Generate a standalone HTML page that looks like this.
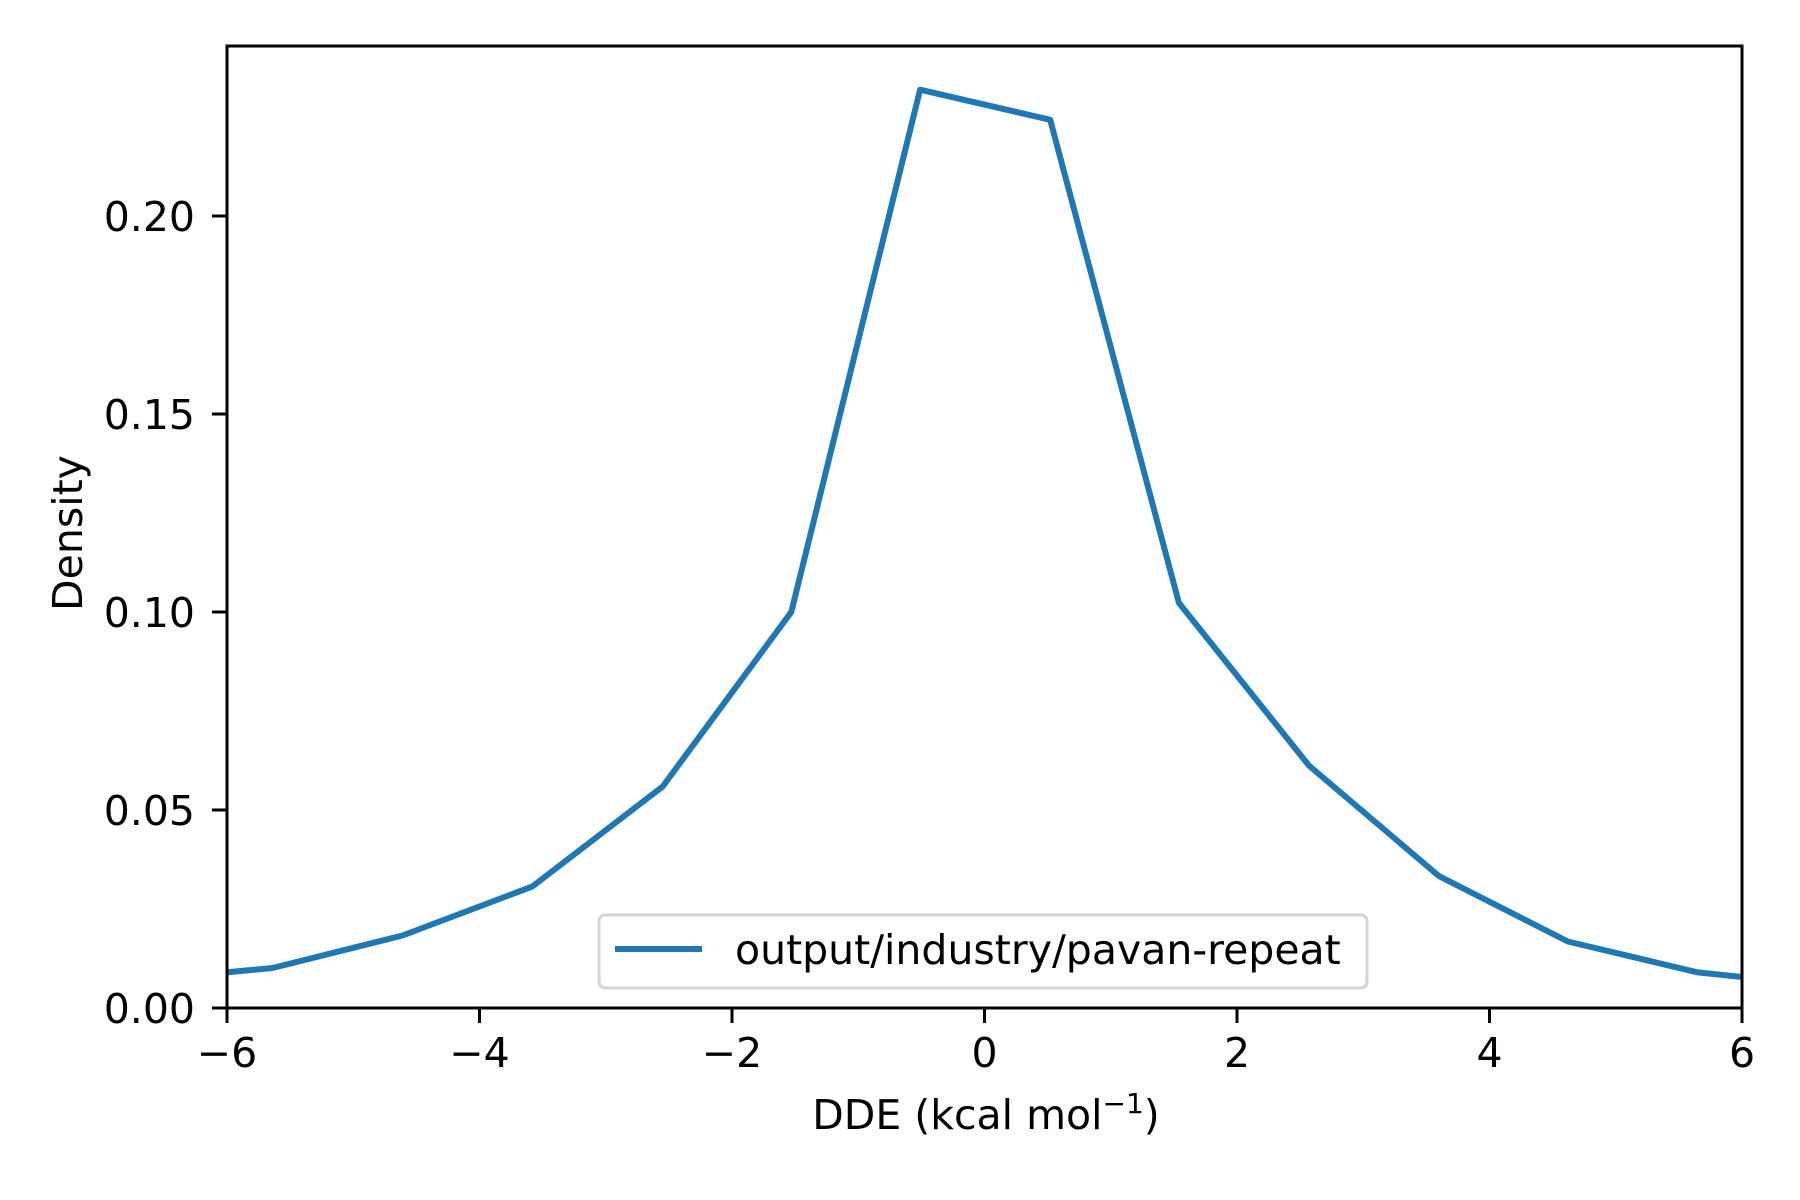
<!DOCTYPE html>
<html><head><meta charset="utf-8">
<style>
html,body{margin:0;padding:0;background:#fff;}
svg{display:block;font-family:"DejaVu Sans","Liberation Sans",sans-serif;}
</style></head>
<body>
<svg id="chart" width="1800" height="1200" viewBox="0 0 1800 1200" xmlns="http://www.w3.org/2000/svg">
  <rect x="0" y="0" width="1800" height="1200" fill="#fff"/>
  <defs><clipPath id="clip"><rect x="227" y="46" width="1515" height="962"/></clipPath></defs>
  <g id="xticks"></g>
  <g id="yticks"></g>
  <path id="series" clip-path="url(#clip)" fill="none" stroke="#1f77b4" stroke-width="6" stroke-linejoin="round" stroke-linecap="square"/>
  <rect x="227" y="46" width="1515" height="962" fill="none" stroke="#000" stroke-width="3"/>
  <text x="986" y="1129" font-size="41" text-anchor="middle">DDE (kcal mol<tspan font-size="28" dy="-16">−1</tspan><tspan dy="16">)</tspan></text>
  <text transform="translate(82,533) rotate(-90)" font-size="41" text-anchor="middle">Density</text>
  <g transform="translate(-5,-3)">
    <rect x="604" y="918" width="768" height="73" rx="6" fill="#fff" fill-opacity="0.8" stroke="#d4d4d4" stroke-width="3"/>
    <line x1="620" y1="952" x2="707" y2="952" stroke="#1f77b4" stroke-width="6"/>
    <text x="740" y="967" font-size="41">output/industry/pavan-repeat</text>
  </g>
</svg>
<script>
const xValues = [-6.67, -5.64, -4.61, -3.58, -2.55, -1.53, -0.51, 0.52, 1.54, 2.57, 3.60, 4.62, 5.65, 6.67];
const densityValues = [0.0070, 0.0101, 0.0183, 0.0307, 0.0559, 0.1000, 0.2319, 0.2243, 0.1023, 0.0612, 0.0333, 0.0168, 0.0090, 0.0056];
const xTickValues = [-6, -4, -2, 0, 2, 4, 6];
const yTickValues = [0, 0.05, 0.10, 0.15, 0.20];
const yTickLabels = ["0.00", "0.05", "0.10", "0.15", "0.20"];

const X0 = 227, X1 = 1742, Y0 = 1008, YTOP = 46;
function sx(v){ return X0 + (v - (-6)) / 12 * (X1 - X0); }
function sy(v){ return Y0 - v / 0.05 * 198; }
const NS = "http://www.w3.org/2000/svg";

const xg = document.getElementById('xticks');
xTickValues.forEach(function(t){
  const l = document.createElementNS(NS, 'line');
  
  
  l.setAttribute('x1', sx(t)); l.setAttribute('x2', sx(t));
  l.setAttribute('y1', Y0); l.setAttribute('y2', Y0 + 15);
  l.setAttribute('stroke', '#000'); l.setAttribute('stroke-width', '3');
  xg.appendChild(l);
  const tx = document.createElementNS(NS, 'text');
  
  
  tx.setAttribute('x', sx(t)); tx.setAttribute('y', 1067);
  tx.setAttribute('font-size', '41'); tx.setAttribute('text-anchor', 'middle');
  tx.textContent = t < 0 ? '\u2212' + Math.abs(t) : String(t);
  xg.appendChild(tx);
});

const yg = document.getElementById('yticks');
yTickValues.forEach(function(t, i){
  const l = document.createElementNS(NS, 'line');
  
  
  l.setAttribute('x1', X0 - 15); l.setAttribute('x2', X0);
  l.setAttribute('y1', sy(t)); l.setAttribute('y2', sy(t));
  l.setAttribute('stroke', '#000'); l.setAttribute('stroke-width', '3');
  yg.appendChild(l);
  const tx = document.createElementNS(NS, 'text');
  
  
  tx.setAttribute('x', 195); tx.setAttribute('y', sy(t) + 15);
  tx.setAttribute('font-size', '41'); tx.setAttribute('text-anchor', 'end');
  tx.textContent = yTickLabels[i];
  yg.appendChild(tx);
});

let d = '';
xValues.forEach(function(x, i){
  d += (i ? 'L' : 'M') + sx(x).toFixed(1) + ',' + sy(densityValues[i]).toFixed(1);
});
document.getElementById('series').setAttribute('d', d);
</script>
</body></html>
